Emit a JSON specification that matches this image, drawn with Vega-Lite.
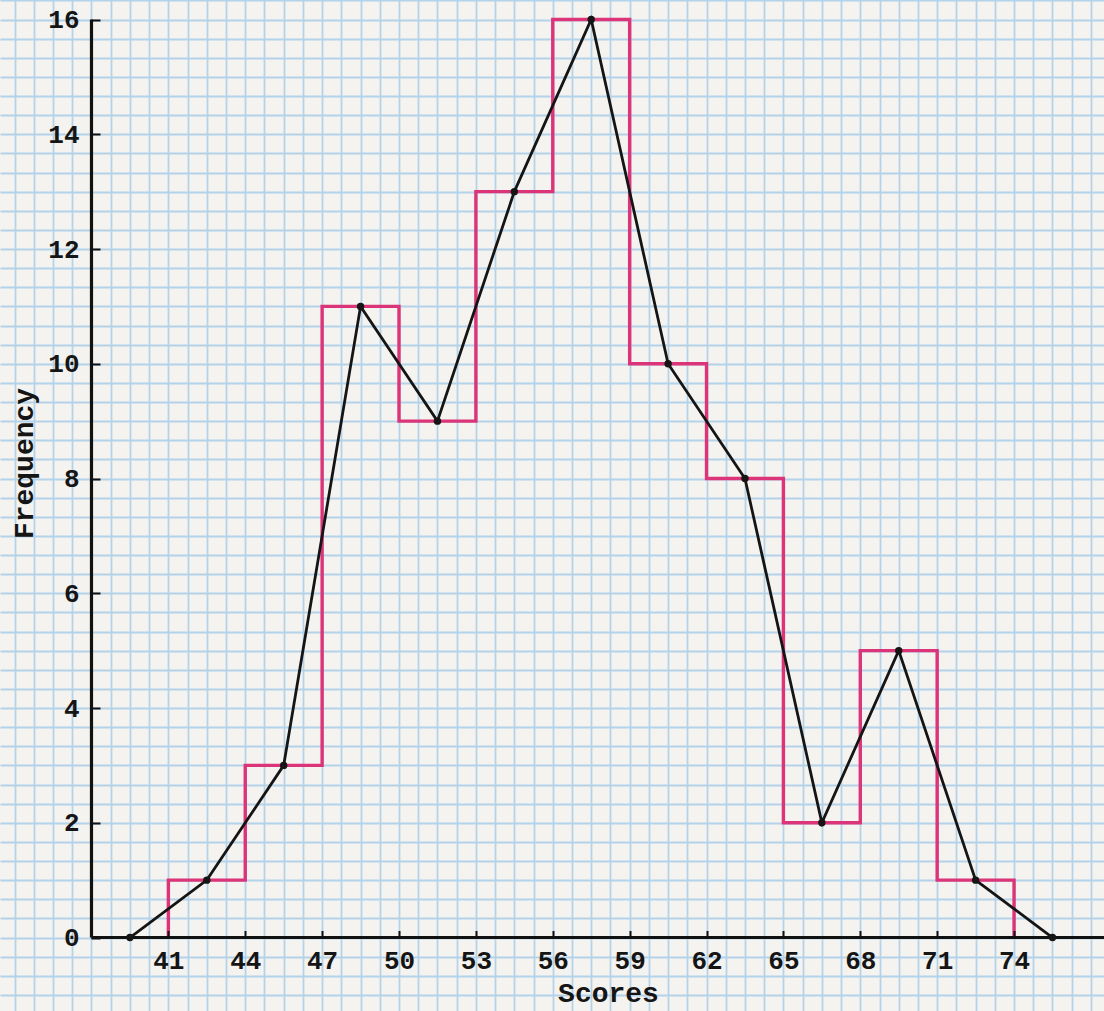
{
  "$schema": "https://vega.github.io/schema/vega-lite/v6.json",
  "width": 1104,
  "height": 1011,
  "autosize": "none",
  "padding": 0,
  "background": "#f5f3ef",
  "config": {"view": {"stroke": null}},
  "datasets": {
    "histogram": [
      {"edge": 41, "freq": 0},
      {"edge": 41, "freq": 1},
      {"edge": 44, "freq": 3},
      {"edge": 47, "freq": 11},
      {"edge": 50, "freq": 9},
      {"edge": 53, "freq": 13},
      {"edge": 56, "freq": 16},
      {"edge": 59, "freq": 10},
      {"edge": 62, "freq": 8},
      {"edge": 65, "freq": 2},
      {"edge": 68, "freq": 5},
      {"edge": 71, "freq": 1},
      {"edge": 74, "freq": 0}
    ],
    "polygon": [
      {"mid": 39.5, "freq": 0},
      {"mid": 42.5, "freq": 1},
      {"mid": 45.5, "freq": 3},
      {"mid": 48.5, "freq": 11},
      {"mid": 51.5, "freq": 9},
      {"mid": 54.5, "freq": 13},
      {"mid": 57.5, "freq": 16},
      {"mid": 60.5, "freq": 10},
      {"mid": 63.5, "freq": 8},
      {"mid": 66.5, "freq": 2},
      {"mid": 69.5, "freq": 5},
      {"mid": 72.5, "freq": 1},
      {"mid": 75.5, "freq": 0}
    ],
    "axes": [
      {"x0": 38, "x1": 38, "y0": 0, "y1": 16},
      {"x0": 38, "x1": 77.51, "y0": 0, "y1": 0}
    ]
  },
  "resolve": {"axis": {"x": "independent", "y": "independent"}},
  "layer": [
    {
      "data": {"name": "histogram"},
      "mark": {"type": "line", "interpolate": "step-after", "color": "#dc3479", "strokeWidth": 3.4},
      "encoding": {
        "x": {
          "field": "edge", "type": "quantitative",
          "scale": {"domain": [34.43, 77.51], "nice": false, "zero": false},
          "axis": {
            "orient": "top", "grid": true, "domain": false, "ticks": false, "labels": false, "title": null, "zindex": 0,
            "gridColor": "#b4d2ea", "gridWidth": 1.8,
            "values": [35, 35.75, 36.5, 37.25, 38, 38.75, 39.5, 40.25, 41, 41.75, 42.5, 43.25, 44, 44.75, 45.5, 46.25, 47, 47.75, 48.5, 49.25, 50, 50.75, 51.5, 52.25, 53, 53.75, 54.5, 55.25, 56, 56.75, 57.5, 58.25, 59, 59.75, 60.5, 61.25, 62, 62.75, 63.5, 64.25, 65, 65.75, 66.5, 67.25, 68, 68.75, 69.5, 70.25, 71, 71.75, 72.5, 73.25, 74, 74.75, 75.5, 76.25, 77]
          }
        },
        "y": {
          "field": "freq", "type": "quantitative",
          "scale": {"domain": [-1.281, 16.34], "nice": false, "zero": false},
          "axis": {
            "orient": "right", "grid": true, "domain": false, "ticks": false, "labels": false, "title": null, "zindex": 0,
            "gridColor": "#b4d2ea", "gridWidth": 1.8,
            "values": [-1, -0.6667, -0.3333, 0, 0.3333, 0.6667, 1, 1.3333, 1.6667, 2, 2.3333, 2.6667, 3, 3.3333, 3.6667, 4, 4.3333, 4.6667, 5, 5.3333, 5.6667, 6, 6.3333, 6.6667, 7, 7.3333, 7.6667, 8, 8.3333, 8.6667, 9, 9.3333, 9.6667, 10, 10.3333, 10.6667, 11, 11.3333, 11.6667, 12, 12.3333, 12.6667, 13, 13.3333, 13.6667, 14, 14.3333, 14.6667, 15, 15.3333, 15.6667, 16, 16.3333]
          }
        }
      }
    },
    {
      "data": {"name": "axes"},
      "mark": {"type": "rule", "color": "#111111", "strokeWidth": 3.2},
      "encoding": {
        "x": {"field": "x0", "type": "quantitative", "axis": null},
        "x2": {"field": "x1"},
        "y": {"field": "y0", "type": "quantitative", "axis": null},
        "y2": {"field": "y1"}
      }
    },
    {
      "data": {"name": "polygon"},
      "mark": {"type": "line", "color": "#151515", "strokeWidth": 2.8, "point": {"filled": true, "color": "#151515", "size": 55}},
      "encoding": {
        "x": {
          "field": "mid", "type": "quantitative",
          "scale": {"domain": [34.43, 77.51], "nice": false, "zero": false},
          "axis": {
            "orient": "bottom", "offset": -73.5, "grid": false, "domain": false, "zindex": 1,
            "values": [41, 44, 47, 50, 53, 56, 59, 62, 65, 68, 71, 74],
            "ticks": true, "tickSize": -7, "tickColor": "#111111", "tickWidth": 2,
            "labelFont": "Liberation Mono", "labelFontWeight": "bold", "labelFontSize": 26, "labelColor": "#151515",
            "labelPadding": 17, "labelBaseline": "top",
            "title": "Scores", "titleFont": "Liberation Mono", "titleFontWeight": "bold", "titleFontSize": 28, "titleColor": "#151515",
            "titleX": 608, "titleY": 64, "titleBaseline": "alphabetic", "titleAlign": "center"
          }
        },
        "y": {
          "field": "freq", "type": "quantitative",
          "scale": {"domain": [-1.281, 16.34], "nice": false, "zero": false},
          "axis": {
            "orient": "left", "offset": -91, "grid": false, "domain": false, "zindex": 1,
            "values": [0, 2, 4, 6, 8, 10, 12, 14, 16],
            "ticks": true, "tickSize": -9, "tickColor": "#111111", "tickWidth": 2,
            "labelFont": "Liberation Mono", "labelFontWeight": "bold", "labelFontSize": 26, "labelColor": "#151515",
            "labelPadding": 21,
            "title": "Frequency", "titleFont": "Liberation Mono", "titleFontWeight": "bold", "titleFontSize": 28, "titleColor": "#151515",
            "titleX": -67, "titleY": 463, "titleAngle": -90, "titleBaseline": "middle", "titleAlign": "center"
          }
        }
      }
    }
  ]
}
